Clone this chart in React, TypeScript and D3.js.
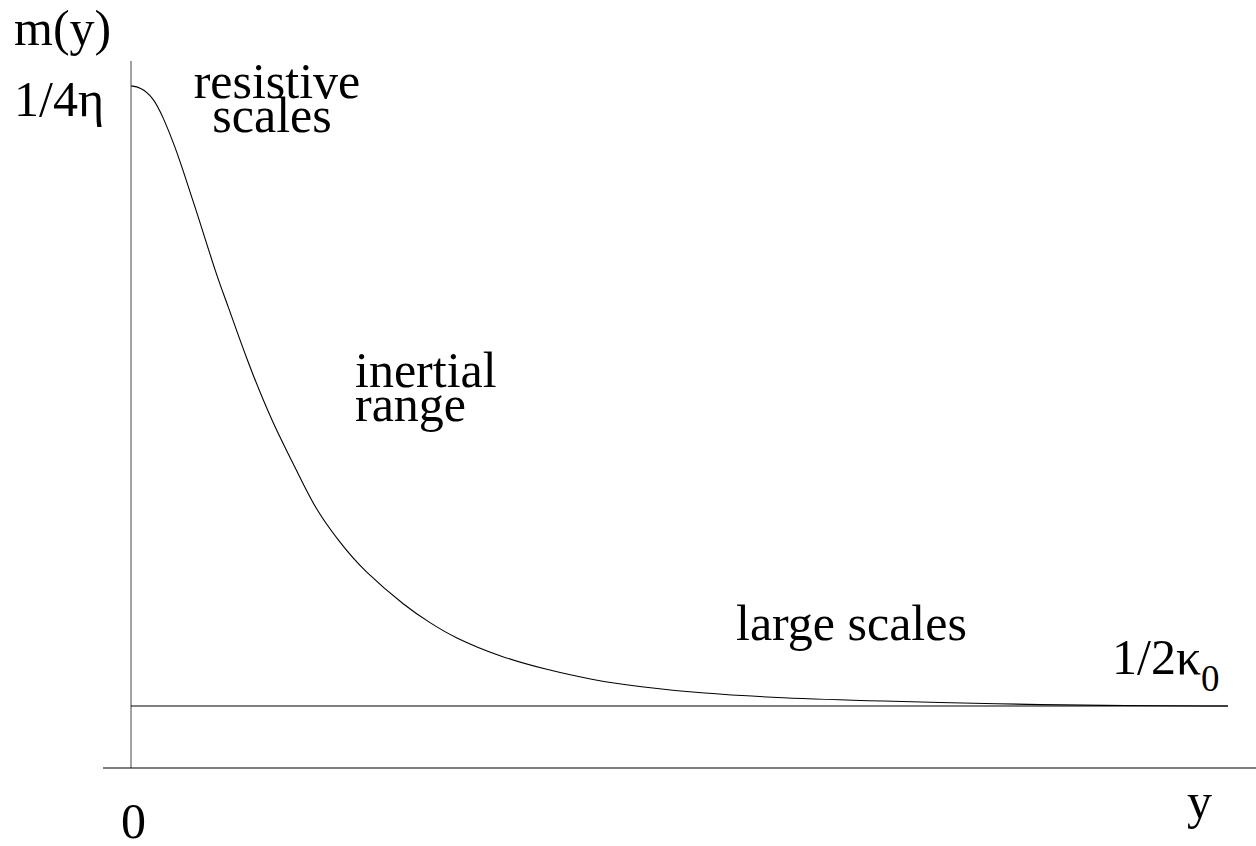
import React from "react";
import * as d3 from "d3";

// curve m(y) (x: 0..100 along y axis, m: 0 at axis, 100 at peak)
const yPos = [0, 0.82, 2.0, 2.92, 4.01, 4.65, 6.02, 7.84, 8.75, 10.57, 12.85, 15.4, 16.77, 19.05, 21.15, 25.16, 27.26, 29.35, 33.64, 37.92, 42.1, 46.4, 51.6, 59.2, 68.3, 79.2, 88.3, 100];
const mVal = [100, 99.85, 98.4, 95.5, 91.1, 88.1, 81.4, 72.0, 68.2, 59.8, 50.7, 42.7, 38.1, 33.0, 29.0, 23.5, 21.3, 19.2, 16.3, 14.4, 12.9, 11.9, 11.0, 10.26, 9.82, 9.38, 9.16, 9.09];
const asymptote = 9.09;

const W = 1256;
const H = 846;
const FS = 50;
const ts = { fontFamily: "Liberation Serif" };

export default function App() {
  const x = d3.scaleLinear().domain([0, 100]).range([131, 1228]);
  const y = d3.scaleLinear().domain([0, 100]).range([768, 86]);

  const pts = yPos.map((v, i) => [v, mVal[i]] as [number, number]);
  const line = d3
    .line<[number, number]>()
    .x((d) => x(d[0]))
    .y((d) => y(d[1]))
    .curve(d3.curveBasis);

  return (
    <svg
      width={W}
      height={H}
      style={{ position: "absolute", left: 0, top: 0, background: "#fff" }}
    >
      {/* axes */}
      <line x1={x(0)} x2={x(0)} y1={61} y2={y(0)} stroke="#555" strokeWidth={1.1} />
      <line x1={103} x2={W} y1={y(0)} y2={y(0)} stroke="#000" strokeWidth={1.1} />
      {/* asymptote 1/2k0 */}
      <line
        x1={x(0)}
        x2={x(100)}
        y1={y(asymptote)}
        y2={y(asymptote)}
        stroke="#000"
        strokeWidth={1.1}
      />
      <path d={line(pts) ?? ""} fill="none" stroke="#000" strokeWidth={1.1} />

      <text x={14} y={45} fontSize={FS} style={ts}>m(y)</text>
      <text x={14} y={116} fontSize={FS} style={ts}>1/4η</text>
      <text x={277} y={98} fontSize={FS} textAnchor="middle" style={ts}>resistive</text>
      <text x={272} y={132} fontSize={FS} textAnchor="middle" style={ts}>scales</text>
      <text x={355} y={387} fontSize={FS} style={ts}>inertial</text>
      <text x={355} y={421} fontSize={FS} style={ts}>range</text>
      <text x={736} y={640} fontSize={FS} style={ts}>large scales</text>
      <text x={1112} y={674} fontSize={FS} style={ts}>
        1/2κ
        <tspan dy={17} fontSize={37}>0</tspan>
      </text>
      <text x={121} y={838} fontSize={FS} style={ts}>0</text>
      <text x={1187} y={818} fontSize={FS} style={ts}>y</text>
    </svg>
  );
}
